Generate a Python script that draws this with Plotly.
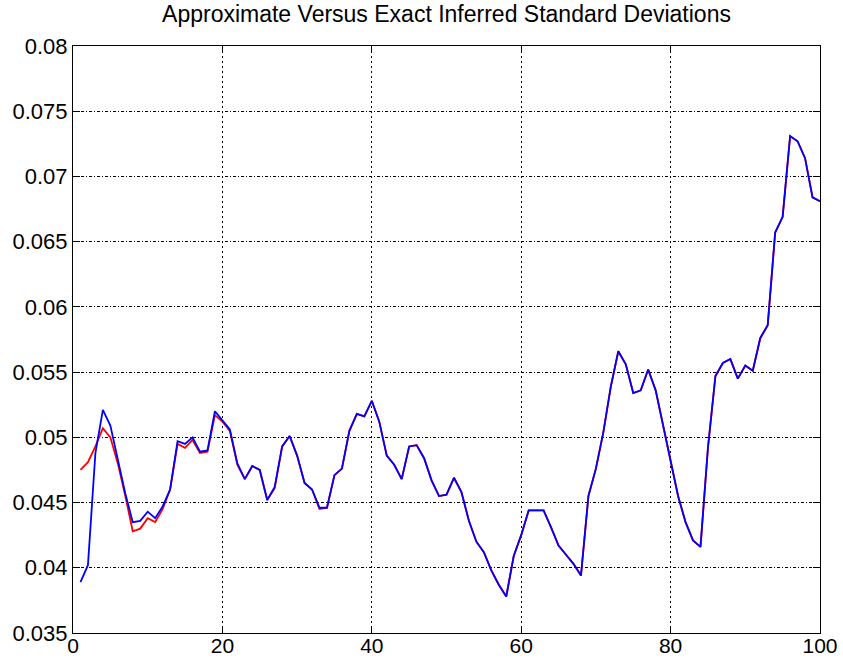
import plotly.graph_objects as go

# sample index
idx = list(range(1, 101))

# exact inferred standard deviations
exact_sd = [
    0.0389, 0.0402, 0.0488, 0.0521, 0.0509, 0.0482, 0.0457, 0.0435, 0.0436, 0.0443,
    0.0438, 0.0447, 0.0460, 0.0497, 0.0495, 0.0500, 0.0489, 0.0490, 0.0520, 0.0513,
    0.0506, 0.0480, 0.0468, 0.0478, 0.0475, 0.0452, 0.0462, 0.0493, 0.0501, 0.0486,
    0.0465, 0.0460, 0.0446, 0.0446, 0.0471, 0.0476, 0.0505, 0.0518, 0.0516, 0.0528,
    0.0512, 0.0486, 0.0479, 0.0468, 0.0493, 0.0494, 0.0484, 0.0467, 0.0455, 0.0456,
    0.0469, 0.0458, 0.0436, 0.0420, 0.0412, 0.0398, 0.0387, 0.0378, 0.0409, 0.0425,
    0.0444, 0.0444, 0.0444, 0.0431, 0.0417, 0.0410, 0.0403, 0.0394, 0.0455, 0.0476,
    0.0504, 0.0539, 0.0566, 0.0556, 0.0534, 0.0536, 0.0552, 0.0536, 0.0509, 0.0482,
    0.0455, 0.0435, 0.0421, 0.0416, 0.0492, 0.0547, 0.0557, 0.0560, 0.0545, 0.0555,
    0.0551, 0.0576, 0.0586, 0.0657, 0.0669, 0.0731, 0.0727, 0.0714, 0.0684, 0.0681,
]

# approximate inferred standard deviations
approx_sd = [
    0.0475, 0.0481, 0.0493, 0.0507, 0.0500, 0.0480, 0.0455, 0.0428, 0.0430, 0.0438,
    0.0435, 0.0445, 0.0460, 0.0495, 0.0492, 0.0498, 0.0488, 0.0489, 0.0517, 0.0512,
    0.0505, 0.0479, 0.0468, 0.0478, 0.0475, 0.0452, 0.0461, 0.0493, 0.0501, 0.0486,
    0.0465, 0.0460, 0.0445, 0.0446, 0.0471, 0.0476, 0.0505, 0.0518, 0.0516, 0.0528,
    0.0512, 0.0486, 0.0479, 0.0468, 0.0493, 0.0494, 0.0484, 0.0467, 0.0455, 0.0456,
    0.0469, 0.0458, 0.0436, 0.0420, 0.0412, 0.0398, 0.0387, 0.0378, 0.0409, 0.0425,
    0.0444, 0.0444, 0.0444, 0.0431, 0.0417, 0.0410, 0.0403, 0.0394, 0.0455, 0.0476,
    0.0504, 0.0539, 0.0566, 0.0556, 0.0534, 0.0536, 0.0552, 0.0536, 0.0509, 0.0482,
    0.0455, 0.0435, 0.0421, 0.0416, 0.0492, 0.0547, 0.0557, 0.0560, 0.0545, 0.0555,
    0.0551, 0.0576, 0.0586, 0.0657, 0.0669, 0.0731, 0.0727, 0.0714, 0.0684, 0.0681,
]

x_ticks = [0, 20, 40, 60, 80, 100]
y_ticks = [0.035, 0.04, 0.045, 0.05, 0.055, 0.06, 0.065, 0.07, 0.075, 0.08]
y_tick_text = ["0.035", "0.04", "0.045", "0.05", "0.055", "0.06", "0.065", "0.07", "0.075", "0.08"]

fig = go.Figure()
fig.add_trace(go.Scatter(x=idx, y=approx_sd, mode="lines",
                         line=dict(color="rgb(255,0,0)", width=1.8), showlegend=False))
fig.add_trace(go.Scatter(x=idx, y=exact_sd, mode="lines",
                         line=dict(color="rgb(0,0,255)", width=1.8), showlegend=False))

font_family = "Liberation Sans, Arial, sans-serif"

fig.update_layout(
    width=843, height=663,
    margin=dict(l=73, r=23, t=46, b=30),
    paper_bgcolor="white", plot_bgcolor="white",
    title=dict(text="Approximate Versus Exact Inferred Standard Deviations",
               x=0.5, xref="paper", xanchor="center",
               y=1, yref="container", yanchor="top", pad=dict(t=6),
               font=dict(family=font_family, size=23, color="black")),
    font=dict(family=font_family, size=22, color="black"),
)

fig.update_xaxes(
    range=[0, 100], tickvals=x_ticks, ticktext=[str(v) for v in x_ticks],
    showline=True, linecolor="black", linewidth=1.2, mirror="ticks",
    ticks="inside", ticklen=7, tickcolor="black", tickwidth=1.2,
    showgrid=True, gridcolor="black", gridwidth=1, griddash="2px,3px",
    zeroline=False, tickfont=dict(size=21), automargin=False,
    ticklabelstandoff=-6,
)
fig.update_yaxes(
    range=[0.035, 0.08], tickvals=y_ticks, ticktext=y_tick_text,
    showline=True, linecolor="black", linewidth=1.2, mirror="ticks",
    ticks="inside", ticklen=7, tickcolor="black", tickwidth=1.2,
    showgrid=True, gridcolor="black", gridwidth=1, griddash="3px,2px,1px,2px",
    zeroline=False, tickfont=dict(size=22), automargin=False,
)

fig.write_html("out.html")
